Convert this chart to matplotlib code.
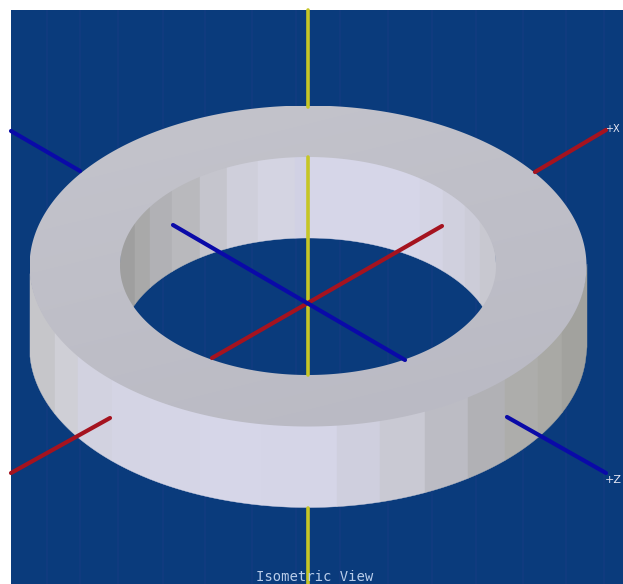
# isometric view of a flat ring with the three axes, drawn in pixel coordinates
import numpy as np
import matplotlib.pyplot as plt
from matplotlib.colors import LinearSegmentedColormap
from matplotlib.patches import Ellipse, PathPatch, Rectangle
from matplotlib.path import Path

# ring geometry
center_x = 308
center_y = 266
outer_a, outer_b = 278.5, 160.5
inner_a, inner_b = 188, 109
depth = 81

# facets of the outer wall: left edges and greys
outer_edges = [30, 55, 78, 112, 150, 200, 262, 337, 380, 425, 468, 505, 538, 562, 587]
outer_shades = ['#c6c6ca', '#cfcfd6', '#d2d2e0', '#d4d4e4', '#d5d5e6', '#d6d6e8', '#d5d5e7',
                '#cfcfde', '#c9c9d3', '#bcbcc4', '#b1b1b5', '#adadab', '#a9a9a5', '#a2a29e']

# facets of the inner wall
inner_edges = [120, 135, 150, 172, 200, 227, 258, 295, 310, 420, 443, 465, 480, 496]
inner_shades = ['#9f9f9f', '#a9a9a9', '#b1b1b5', '#b9b9bd', '#c5c5cd', '#cfcfdb', '#d4d4e2',
                '#d1d1e4', '#d6d6e8', '#d4d4e4', '#d0d0de', '#ccccd8', '#c8c8d0']

# axis segments, (x0, y0, x1, y1)
yellow_segments = [(308, 10, 308, 107), (308, 157, 308, 375), (308, 508, 308, 584)]
red_segments = [(11, 473, 110, 418), (212, 358, 442, 226), (535, 172, 606, 130)]
blue_segments = [(11, 131, 80, 171), (173, 225, 405, 360), (507, 417, 606, 473)]

# faint vertical bands in the background
band_x = [47, 80, 118, 163, 205, 252, 296, 340, 388, 432, 476, 523, 566, 604]

bg_color = '#0a3b7c'
top_light = '#c4c4cc'
top_dark = '#b9b9c3'


def arc_y(x, a, b, sign):
    return center_y + sign * b * np.sqrt(np.clip(1 - ((x - center_x) / a) ** 2, 0, 1))


def ellipse_xy(a, b):
    t = np.linspace(0, 2 * np.pi, 361)
    return np.column_stack([center_x + a * np.cos(t), center_y + b * np.sin(t)])


fig = plt.figure(figsize=(6.23, 5.84), dpi=100)
ax = fig.add_axes([0, 0, 1, 1])
ax.axis('off')

ax.add_patch(Rectangle((11, 10), 612, 574, color=bg_color, lw=0, zorder=0))
for x in band_x:
    ax.plot([x, x], [10, 584], color='#2a3f8c', lw=1.2, alpha=0.25, zorder=1,
            solid_capstyle='butt')


def draw_segments(segments, color, lw, zorder=6):
    for x0, y0, x1, y1 in segments:
        ax.plot([x0, x1], [y0, y1], color=color, lw=lw, solid_capstyle='round', zorder=zorder)


# outer wall
for i, shade in enumerate(outer_shades):
    xs = np.linspace(outer_edges[i], outer_edges[i + 1], 30)
    ys = arc_y(xs, outer_a, outer_b, 1)
    ax.fill(np.r_[xs, xs[::-1]], np.r_[ys - 2, ys[::-1] + depth], color=shade, lw=0.3, zorder=3)

# inner wall, clipped to the top opening
opening = Ellipse((center_x, center_y), 2 * inner_a + 2, 2 * inner_b + 2, fc='none', ec='none', zorder=3)
ax.add_patch(opening)
for i, shade in enumerate(inner_shades):
    xs = np.linspace(inner_edges[i], inner_edges[i + 1], 30)
    upper = arc_y(xs, inner_a, inner_b, -1)
    lower = upper + depth
    poly = ax.fill(np.r_[xs, xs[::-1]], np.r_[upper - 3, lower[::-1]], color=shade, lw=0.3, zorder=3)[0]
    poly.set_clip_path(opening)

# top face with a real hole, light at the upper left and darker towards the front
out_pts = ellipse_xy(outer_a, outer_b)
in_pts = ellipse_xy(inner_a, inner_b)[::-1]
verts = np.vstack([out_pts, in_pts])
codes = [Path.MOVETO] + [Path.LINETO] * (len(out_pts) - 1) + [Path.MOVETO] + [Path.LINETO] * (len(in_pts) - 1)
top_face = PathPatch(Path(verts, codes), fc='none', ec='none', zorder=4)
ax.add_patch(top_face)
top_cmap = LinearSegmentedColormap.from_list('top', [top_light, top_dark])
gx, gy = np.meshgrid(np.linspace(0, 1, 64), np.linspace(0, 1, 64))
im = ax.imshow(0.3 * gx + 0.7 * gy, cmap=top_cmap, extent=(30, 587, 427, 106), aspect='auto',
               zorder=4, interpolation='bilinear')
im.set_clip_path(top_face)

draw_segments(yellow_segments, '#c6c626', 2.6)
draw_segments(red_segments, '#a5131f', 3.0)
draw_segments(blue_segments, '#0a0aa8', 3.0)

ax.text(605, 129, '+X', color='#e8e8f4', fontsize=7, va='center', ha='left', zorder=7)
ax.text(605, 480, '+Z', color='#e8e8f4', fontsize=8, va='center', ha='left', zorder=7)
ax.text(315, 577, 'Isometric View', color='#b9cdea', fontsize=10, family='DejaVu Sans Mono',
        va='center', ha='center', zorder=7)

ax.set_xlim(0, 623)
ax.set_ylim(584, 0)

fig.savefig('out.png', dpi=100)
